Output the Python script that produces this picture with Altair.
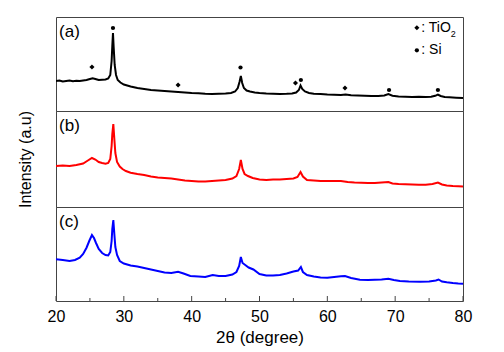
import altair as alt
import pandas as pd

# ---------------- data ----------------
# panel (a) – black
two_theta_a = [20.0, 20.5, 21.0, 21.5, 22.0, 22.5, 23.0, 23.5, 24.0, 24.5, 25.0, 25.4, 25.8, 26.3,
               26.8, 27.3, 27.7, 28.0, 28.2, 28.3, 28.4, 28.5, 28.65, 28.85, 29.1, 29.5, 30.0,
               30.5, 31.0, 32.0, 33.0, 34.0, 35.0, 36.0, 37.0, 38.0, 39.0, 40.0, 41.0, 42.0, 43.0,
               44.0, 45.0, 45.8, 46.4, 46.8, 47.05, 47.25, 47.45, 47.7, 48.1, 48.6, 49.3, 50.0,
               51.0, 52.0, 53.0, 54.0, 54.8, 55.4, 55.8, 56.05, 56.3, 56.7, 57.3, 58.0, 59.0, 60.0,
               61.0, 62.0, 62.7, 63.5, 64.5, 65.5, 66.5, 67.5, 68.4, 69.0, 69.6, 70.5, 71.5, 72.5,
               73.5, 74.5, 75.3, 75.9, 76.3, 76.7, 77.3, 78.0, 79.0, 80.0]
intensity_a = [30, 30.5, 29.5, 30, 30.5, 29.8, 30.3, 30, 30.6, 31, 32, 32.8, 32, 31,
               31.3, 31.5, 32.5, 36, 50, 65, 78, 64, 46, 36, 31, 28.5, 26.5,
               25.5, 24.5, 23, 22, 21, 20.5, 20, 19.5, 19, 18.5, 18, 17.8, 17.3, 17,
               17.2, 17.5, 18, 19.5, 23, 29, 35, 28, 23, 20.5, 19.5, 18.5, 18,
               17.5, 17.3, 17, 17.2, 17.5, 18.5, 21, 25.5, 22, 19.5, 18, 17.3, 17, 16.5,
               16.3, 16, 16.5, 15.8, 15.5, 15.3, 15, 15, 15.5, 17, 15.3, 14.5, 14.3, 14,
               14.2, 14, 14.3, 15.2, 16.5, 15, 14, 13.7, 13.3, 13]

# panel (b) – red
two_theta_b = [20.0, 21.0, 22.0, 23.0, 24.0, 24.7, 25.3, 25.8, 26.3, 26.8, 27.3, 27.7, 28.0, 28.2,
               28.3, 28.45, 28.6, 28.75, 29.0, 29.4, 29.8, 30.3, 31.0, 32.0, 33.0, 34.0, 35.0,
               36.0, 37.0, 38.0, 39.0, 40.0, 41.0, 42.0, 43.0, 44.0, 45.0, 46.0, 46.6, 47.0,
               47.25, 47.5, 47.8, 48.3, 49.0, 50.0, 51.0, 52.0, 53.0, 54.0, 55.0, 55.6, 56.05,
               56.4, 57.0, 58.0, 59.0, 60.0, 61.0, 62.0, 63.0, 64.0, 65.0, 66.0, 67.0, 68.0,
               69.0, 69.6, 70.5, 71.5, 72.5, 73.5, 74.5, 75.5, 76.3, 76.9, 77.6, 78.5, 79.3, 80.0]
intensity_b = [41, 41.5, 41, 42, 43.5, 46.5, 49, 47.5, 45, 44, 43.3, 44, 48, 61,
               73, 83, 68, 54, 45, 40.5, 38, 36, 34.3, 33, 32, 30.5, 29.5,
               29, 28.5, 27.5, 26.5, 26, 25.5, 25.5, 26, 26.5, 27, 28.5, 31, 38,
               47, 38, 33, 31, 29, 27.5, 27, 27.5, 27.5, 28, 28.5, 30, 35,
               30.5, 27, 26.5, 26, 26, 26, 26, 25, 24.5, 24.3, 24, 24, 24.5,
               25, 23.5, 23, 22.7, 22.5, 22.3, 22.3, 23, 24.5, 22.5, 21.5, 21, 20.7, 20.5]

# panel (c) – blue
two_theta_c = [20.0, 21.0, 22.0, 22.8, 23.5, 24.0, 24.5, 24.9, 25.3, 25.6, 25.9, 26.3, 26.8, 27.3,
               27.7, 28.0, 28.2, 28.3, 28.45, 28.6, 28.75, 29.0, 29.4, 30.0, 31.0, 32.0, 33.0,
               34.0, 35.0, 36.0, 37.0, 38.0, 38.8, 39.8, 41.0, 42.0, 43.1, 44.0, 45.0, 46.0,
               46.6, 47.0, 47.25, 47.5, 47.9, 48.4, 49.1, 50.0, 51.0, 52.0, 53.0, 54.0, 55.0,
               55.7, 56.1, 56.4, 57.0, 58.0, 59.0, 60.0, 61.0, 62.0, 62.6, 63.5, 64.8, 66.0,
               67.0, 68.0, 69.0, 69.8, 70.7, 72.0, 73.7, 75.0, 76.0, 76.4, 76.9, 77.6, 78.5,
               79.3, 80.0]
intensity_c = [41.7, 41, 40, 41, 43.3, 47, 53.3, 60, 66, 63, 58, 52, 48, 46,
               45.5, 49, 60, 72, 81, 67, 54, 46, 40, 37.5, 35.5, 34.5, 33,
               31.5, 30, 28.5, 28, 29.3, 27.5, 25, 24.5, 24, 26, 25, 25, 26.5,
               29, 35, 44, 38, 36, 33.5, 31.5, 27, 25.5, 25.5, 26, 27.5, 29.5,
               30.5, 34, 29, 26, 24.5, 23.5, 23.3, 24, 24.8, 25, 23, 21.3, 21,
               21.3, 21.5, 22.3, 21, 20, 19.5, 19.3, 19.5, 20.5, 21.5, 19.5, 18.7, 18,
               17.5, 17.3]

# phase markers in panel (a)
tio2_peaks = [25.3, 38.0, 55.3, 62.6]
tio2_marker_h = [44, 26, 28, 23]
si_peaks = [28.4, 47.2, 56.1, 69.1, 76.3]
si_marker_h = [83, 43.5, 31, 21, 21]

x_ticks = [20, 25, 30, 35, 40, 45, 50, 55, 60, 65, 70, 75, 80]
x_labels = [20, 30, 40, 50, 60, 70, 80]

# ---------------- styling ----------------
FONT = "Liberation Sans"
W = 407
HA, HB, HC = 94, 96, 94
BORDER = "#444444"


def xs():
    return alt.Scale(domain=[20, 80], nice=False, zero=False)


def ys(h):
    return alt.Scale(domain=[0, h], nice=False, zero=False)


def enc(h, xaxis, yaxis):
    return dict(
        x=alt.X("t:Q", scale=xs(), axis=xaxis),
        y=alt.Y("v:Q", scale=ys(h), axis=yaxis),
    )


def line(t, v, color, h, xaxis=None, yaxis=None):
    df = pd.DataFrame({"t": t, "v": v})
    return alt.Chart(df).mark_line(color=color, strokeWidth=2, clip=True).encode(
        **enc(h, xaxis, yaxis))


def label(txt, h, xaxis=None, yaxis=None):
    df = pd.DataFrame({"t": [20.45], "v": [h - 15], "s": [txt]})
    return alt.Chart(df).mark_text(font=FONT, fontSize=17, align="left", baseline="middle",
                                   color="black").encode(text="s:N", **enc(h, xaxis, yaxis))


def points(t, v, shape, size, h, xaxis=None, yaxis=None):
    df = pd.DataFrame({"t": t, "v": v})
    return alt.Chart(df).mark_point(shape=shape, size=size, filled=True, color="black",
                                    opacity=1).encode(**enc(h, xaxis, yaxis))


def text(t, v, s, size, h, xaxis=None, yaxis=None):
    df = pd.DataFrame({"t": [t], "v": [v], "s": [s]})
    return alt.Chart(df).mark_text(font=FONT, fontSize=size, align="left", baseline="middle",
                                   color="black").encode(text="s:N", **enc(h, xaxis, yaxis))


panel_a = alt.layer(
    line(two_theta_a, intensity_a, "black", HA),
    points(tio2_peaks, tio2_marker_h, "diamond", 26, HA),
    points(si_peaks, si_marker_h, "circle", 18, HA),
    label("(a)", HA),
    points([73.2], [83.3], "diamond", 26, HA),
    points([73.2], [60.7], "circle", 18, HA),
    text(73.85, 83.5, ": TiO", 14, HA),
    text(78.2, 77.0, "2", 9, HA),
    text(73.85, 61.0, ": Si", 14, HA),
).properties(width=W, height=HA)

y_title_axis = alt.Axis(title="Intensity (a.u)", labels=False, ticks=False, domain=False,
                        grid=False, titleFont=FONT, titleFontSize=16, titleFontWeight="normal",
                        titleColor="black", titlePadding=23)

panel_b = alt.layer(
    line(two_theta_b, intensity_b, "#ff0000", HB, yaxis=y_title_axis),
    label("(b)", HB, yaxis=y_title_axis),
).properties(width=W, height=HB)

x_axis = alt.Axis(
    values=x_labels,
    ticks=False,
    domain=False,
    grid=False,
    labelPadding=7,
    labelFont=FONT,
    labelFontSize=16,
    labelColor="black",
    labelFlush=False,
    title="2θ (degree)",
    titleFont=FONT,
    titleFontSize=17,
    titleFontWeight="normal",
    titleColor="black",
    titlePadding=5,
)

# inward tick marks drawn at the tick positions (major 5 px, minor 3 px)
tick_df = pd.DataFrame({"t": x_ticks})
tick_df["v"] = 0
tick_df["len"] = [5 if t % 10 == 0 else 3 for t in x_ticks]
ticks = alt.Chart(tick_df).mark_rule(color=BORDER, strokeWidth=1).encode(
    y2="len:Q", **enc(HC, x_axis, None)
)

panel_c = alt.layer(
    line(two_theta_c, intensity_c, "#0000ff", HC, xaxis=x_axis),
    ticks,
    label("(c)", HC, xaxis=x_axis),
).properties(width=W, height=HC)

chart = alt.vconcat(panel_a, panel_b, panel_c, spacing=0, bounds="flush").configure_view(
    stroke=BORDER, strokeWidth=1
).properties(
    padding={"left": 16, "top": 16, "right": 0, "bottom": 0}
)

chart.save("out.html", embed_options={"renderer": "svg", "actions": False})
